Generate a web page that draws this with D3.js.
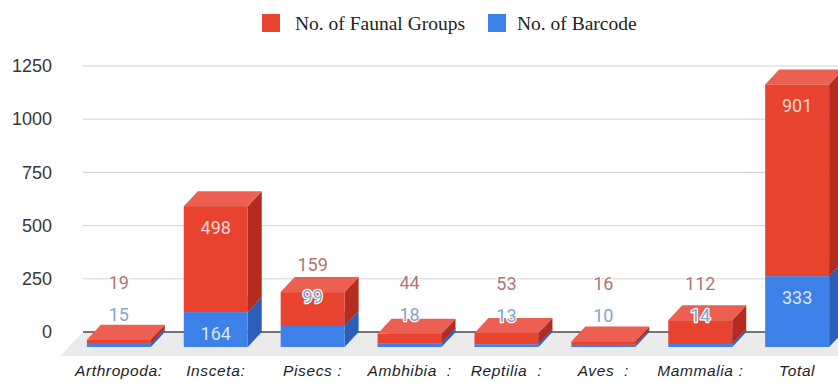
<!DOCTYPE html>
<html>
<head>
<meta charset="utf-8">
<script src="https://cdn.jsdelivr.net/npm/d3@7"></script>
<style>
  html, body { margin: 0; padding: 0; background: #fff; }
  svg { display: block; }
</style>
</head>
<body>
<svg id="chart" width="838" height="383"></svg>
<script>
// Faunal groups vs. barcodes per group (stacked 3D columns)
const categories = ["Arthropoda:", "Insceta:", "Pisecs :", "Ambhibia  :", "Reptilia  :", "Aves  :", "Mammalia :", "Total"];
const faunalGroups = [19, 498, 159, 44, 53, 16, 112, 901];
const barcodes = [15, 164, 99, 18, 13, 10, 14, 333];
const yTicks = [0, 250, 500, 750, 1000, 1250];
const seriesNames = ["No. of Faunal Groups", "No. of Barcode"];

const W = 838, H = 383;
const depthX = 14, depthY = 15;          // oblique depth of each column
const svg = d3.select("#chart");

// back-plane scale (gridlines); column fronts sit depthY lower, depthX left
const y = d3.scaleLinear().domain([0, 1250]).range([332, 66]);
const yFront = v => y(v) + depthY;
const x = d3.scaleBand().domain(categories).range([83, 833])
  .paddingInner(0.34).paddingOuter(0.04);
const bw = x.bandwidth();

const palette = {
  red:  { front: "#e8432f", top: "#ec5f51", side: "#b42b20" },
  blue: { front: "#3d80e8", top: "#5e96ee", side: "#2b5fba" }
};

// floor plane
svg.append("polygon")
  .attr("points", [[83, y(0)], [W, y(0)], [W, y(0) + 24], [60, y(0) + 24]].join(" "))
  .attr("fill", "#ebebeb");

// gridlines
svg.append("g").selectAll("line")
  .data(yTicks)
  .join("line")
  .attr("x1", 83).attr("x2", W)
  .attr("y1", d => y(d)).attr("y2", d => y(d))
  .attr("stroke", d => d === 0 ? "#4a4a4a" : "#d2d2d2")
  .attr("stroke-width", d => d === 0 ? 1.3 : 1);

// y axis labels
const yAxis = d3.axisLeft(y).tickValues(yTicks).tickSize(0).tickPadding(0).tickFormat(d3.format("d"));
const ay = svg.append("g").attr("transform", "translate(52,0)").call(yAxis);
ay.select(".domain").remove();
ay.selectAll("text")
  .attr("font-family", "'Liberation Sans', Arial, sans-serif")
  .attr("font-size", 18)
  .attr("fill", "#383838");

// columns
function segment(g, x0, v0, v1, col) {
  const f0 = yFront(v0), f1 = yFront(v1);
  g.append("polygon")
    .attr("points", [[x0 + bw, f1], [x0 + bw + depthX, f1 - depthY], [x0 + bw + depthX, f0 - depthY], [x0 + bw, f0]].join(" "))
    .attr("fill", col.side);
  g.append("rect")
    .attr("x", x0).attr("y", f1).attr("width", bw).attr("height", f0 - f1)
    .attr("fill", col.front);
  g.append("polygon")
    .attr("points", [[x0, f1], [x0 + bw, f1], [x0 + bw + depthX, f1 - depthY], [x0 + depthX, f1 - depthY]].join(" "))
    .attr("fill", col.top);
}

const bars = svg.append("g");
const rows = categories.map((c, i) => ({ cat: c, blue: barcodes[i], red: faunalGroups[i] }));
rows.forEach(r => {
  const g = bars.append("g");
  const x0 = x(r.cat);
  segment(g, x0, 0, r.blue, palette.blue);
  segment(g, x0, r.blue, r.blue + r.red, palette.red);
});

// value labels
const minInside = 34.5;
const labels = svg.append("g")
  .attr("font-family", "Roboto, 'Noto Sans', sans-serif")
  .attr("font-size", 18)
  .attr("text-anchor", "middle");
function label(cx, cy, text, fill, halo) {
  const t = labels.append("text")
    .attr("x", cx).attr("y", cy).attr("dy", "0.36em")
    .attr("fill", fill).text(text);
  if (halo) t.attr("stroke", "#fff").attr("stroke-width", 2.5)
    .attr("stroke-linejoin", "round").attr("paint-order", "stroke");
}
rows.forEach(r => {
  const cx = x(r.cat) + bw / 2;
  const blueTop = yFront(r.blue), redTop = yFront(r.blue + r.red);
  const blueH = yFront(0) - blueTop, redH = blueTop - redTop;
  let blueY;
  if (blueH >= minInside) {
    blueY = blueTop + 21;
    label(cx, blueY, r.blue, "#dce7f8", false);
  } else {
    blueY = blueTop - 29;
    label(cx, blueY, r.blue, "#86a3cb", true);
  }
  if (redH >= minInside) {
    label(cx, redTop + 21, r.red, "#f7d6d0", false);
  } else {
    label(cx, Math.min(redTop - 28, blueY - 32), r.red, "#ad7670", true);
  }
});

// category labels
svg.append("g").selectAll("text")
  .data(categories)
  .join("text")
  .attr("x", d => x(d) + bw / 2)
  .attr("y", 376)
  .attr("text-anchor", "middle")
  .attr("xml:space", "preserve")
  .style("white-space", "pre")
  .attr("font-family", "'Liberation Sans', Arial, sans-serif")
  .attr("font-style", "italic")
  .attr("font-size", 15.5)
  .attr("letter-spacing", 0.6)
  .attr("fill", "#1e1e1e")
  .text(d => d);

// legend
const legend = svg.append("g");
const legendItems = [
  { name: seriesNames[0], color: palette.red.front, x: 262, tx: 295 },
  { name: seriesNames[1], color: palette.blue.front, x: 488, tx: 517 }
];
legendItems.forEach(it => {
  legend.append("rect").attr("x", it.x).attr("y", 14).attr("width", 18).attr("height", 18)
    .attr("fill", it.color);
  legend.append("text").attr("x", it.tx).attr("y", 30)
    .attr("font-family", "'Liberation Serif', 'Times New Roman', serif")
    .attr("font-size", 19.5)
    .attr("fill", "#222")
    .text(it.name);
});
</script>
</body>
</html>
